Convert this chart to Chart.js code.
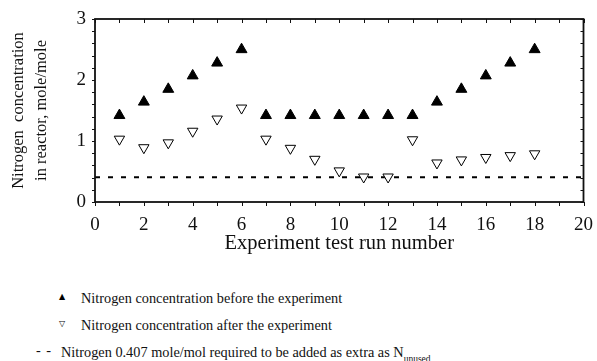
<!DOCTYPE html>
<html>
<head>
<meta charset="utf-8">
<script src="https://cdn.jsdelivr.net/npm/chart.js@4"></script>
<style>
  body { margin: 0; background: #fff; }
  #wrap { position: relative; width: 597px; height: 361px; }
  #myChart { position: absolute; left: 0; top: 0; }
  .leg { position: absolute; font-family: "Liberation Serif", "Times New Roman", serif; font-size: 14.3px; color: #111; white-space: nowrap; line-height: 1; }
  .mk { position: absolute; font-family: "DejaVu Sans", sans-serif; font-size: 8px; color: #000; line-height: 1; }
  .leg sub { font-size: 9.5px; vertical-align: -5px; }
</style>
</head>
<body>
<div id="wrap">
  <canvas id="myChart" width="597" height="256"></canvas>
  <span class="mk" style="left:59px; top:293px;">▲</span>
  <span class="leg" style="left:81px; top:291px;">Nitrogen concentration before the experiment</span>
  <span class="mk" style="left:59px; top:320px;">▽</span>
  <span class="leg" style="left:81px; top:318px;">Nitrogen concentration after the experiment</span>
  <span class="leg" style="left:36px; top:343px; letter-spacing:1px;">- -</span>
  <span class="leg" style="left:61px; top:345px;">Nitrogen 0.407 mole/mol required to be added as extra as N<sub>unused</sub></span>
</div>
<script>
  const runs   = [1, 2, 3, 4, 5, 6, 7, 8, 9, 10, 11, 12, 13, 14, 15, 16, 17, 18];
  const before = [1.42, 1.64, 1.85, 2.07, 2.28, 2.5, 1.42, 1.42, 1.42, 1.42, 1.42, 1.42, 1.42, 1.64, 1.85, 2.07, 2.28, 2.5];
  const after  = [1.03, 0.89, 0.97, 1.16, 1.36, 1.54, 1.03, 0.88, 0.70, 0.51, 0.41, 0.41, 1.02, 0.64, 0.69, 0.73, 0.76, 0.79];
  const extraN = 0.407;
  const xRange = [0, 20];

  const toPoints = (xs, ys) => xs.map((x, i) => ({ x: x, y: ys[i] }));

  // frame with inward/outward ticks like the original plot
  const framePlugin = {
    id: 'frame',
    afterDraw(chart) {
      const { ctx, chartArea: a, scales } = chart;
      const xs = scales.x, ys = scales.y;
      ctx.save();
      ctx.strokeStyle = '#111';
      ctx.lineWidth = 1.8;
      ctx.strokeRect(a.left, a.top, a.right - a.left, a.bottom - a.top);
      ctx.lineWidth = 1;
      ctx.beginPath();
      for (let v = 0; v <= 20; v++) {
        const px = Math.round(xs.getPixelForValue(v)) + 0.5;
        ctx.moveTo(px, a.bottom);
        ctx.lineTo(px, a.bottom + 4);
        ctx.moveTo(px, a.top);
        ctx.lineTo(px, a.top + 4);
      }
      for (let k = 0; k <= 15; k++) {
        const py = Math.round(ys.getPixelForValue(k * 0.2)) + 0.5;
        ctx.moveTo(a.left, py);
        ctx.lineTo(a.left - 3, py);
        ctx.moveTo(a.right, py);
        ctx.lineTo(a.right - 3, py);
      }
      ctx.stroke();
      ctx.restore();
    }
  };

  const ctx = document.getElementById('myChart');
  new Chart(ctx, {
    type: 'scatter',
    data: {
      datasets: [
        {
          label: 'Nitrogen concentration before the experiment',
          data: toPoints(runs, before),
          pointStyle: 'triangle',
          pointRadius: 6.3,
          backgroundColor: '#000',
          borderColor: '#000',
          borderWidth: 1
        },
        {
          label: 'Nitrogen concentration after the experiment',
          data: toPoints(runs, after),
          pointStyle: 'triangle',
          rotation: 180,
          pointRadius: 6,
          backgroundColor: '#fff',
          borderColor: '#000',
          borderWidth: 1
        },
        {
          type: 'line',
          label: 'Nitrogen 0.407 mole/mol',
          data: toPoints(xRange, [extraN, extraN]),
          borderColor: '#000',
          borderWidth: 2,
          borderDash: [5, 8],
          pointRadius: 0,
          fill: false
        }
      ]
    },
    options: {
      responsive: false,
      animation: false,
      layout: { padding: { top: 19, right: 11, left: 0, bottom: 0 } },
      plugins: { legend: { display: false }, tooltip: { enabled: false } },
      scales: {
        x: {
          type: 'linear',
          min: 0, max: 20,
          afterFit(scale) { scale.height = 54; },
          ticks: { stepSize: 2, color: '#111', padding: 4, font: { family: 'Liberation Serif', size: 19 } },
          grid: { display: false },
          border: { display: false },
          title: { display: true, text: 'Experiment test run number', color: '#111', padding: 0,
                   font: { family: 'Liberation Serif', size: 20.5 } }
        },
        y: {
          min: 0, max: 3,
          afterFit(scale) { scale.width = 95; },
          ticks: { stepSize: 1, color: '#111', padding: 1, font: { family: 'Liberation Serif', size: 19 } },
          grid: { display: false },
          border: { display: false },
          title: { display: true, text: ['Nitrogen  concentration', 'in reactor, mole/mole'], color: '#111',
                   padding: { top: 8, bottom: 0 }, font: { family: 'Liberation Serif', size: 16.5, lineHeight: 1.35 } }
        }
      }
    },
    plugins: [framePlugin]
  });
</script>
</body>
</html>
